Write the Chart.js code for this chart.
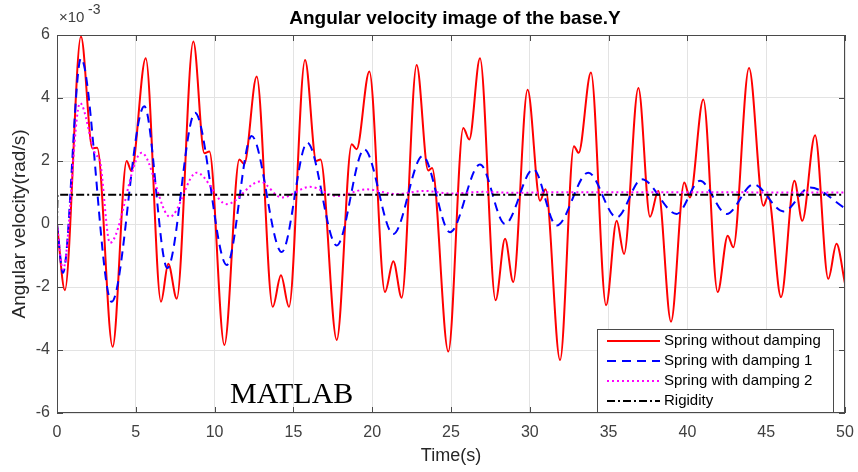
<!DOCTYPE html>
<html>
<head>
<meta charset="utf-8">
<script src="https://cdn.jsdelivr.net/npm/chart.js@4.4.0/dist/chart.umd.min.js"></script>
<style>
  html, body { margin: 0; padding: 0; background: #fff; }
  #wrap { width: 858px; height: 472px; }
</style>
</head>
<body>
<div id="wrap"><canvas id="velChart" width="858" height="472"></canvas></div>
<script>
// Spring without damping (time s, value x1e-3 rad/s)
const redT = [0, 0.5, 1.52, 2.25, 2.55, 3.53, 4.42, 4.72, 5.63, 6.6, 7.06, 7.6, 8.65, 9.35, 9.67, 10.62,
  11.57, 11.88, 12.67, 13.69, 14.21, 14.72, 15.74, 16.45, 16.72, 17.75, 18.7, 19.01, 19.82, 20.81, 21.34, 21.87,
  22.82, 23.55, 23.8, 24.83, 25.78, 26.16, 26.84, 27.83, 28.43, 28.95, 29.86, 30.65, 31.0, 31.92, 32.8, 33.1,
  33.88, 34.84, 35.51, 35.98, 36.89, 37.63, 38.15, 38.96, 39.8, 40.16, 41.01, 41.92, 42.56, 42.91, 43.91, 44.82,
  45.13, 45.94, 46.79, 47.29, 48.1, 48.94, 49.46, 50];
const redV = [0, -2.1, 5.95, 2.4, 2.42, -3.9, 2.0, 1.68, 5.26, -2.47, -1.26, -2.37, 5.79, 2.25, 2.3, -3.84,
  2.05, 1.9, 4.68, -2.63, -1.63, -2.63, 5.21, 2.0, 2.05, -3.68, 2.53, 2.37, 4.84, -2.16, -1.18, -2.34,
  5.05, 1.7, 1.78, -4.05, 3.05, 2.68, 5.26, -2.42, -0.47, -1.84, 4.26, 0.74, 1.1, -4.32, 2.47, 2.26,
  4.81, -2.58, 0.1, -0.95, 4.32, 0.23, 1.05, -3.1, 1.32, 0.84, 3.95, -2.16, -0.37, -0.74, 4.95, 0.58,
  0.89, -2.32, 1.37, 0.1, 2.82, -1.74, -0.63, -1.89];

// Spring with damping 1
const blueT = [0, 0.38, 1.52, 3.47, 5.54, 7.0, 8.76, 10.77, 12.35, 14.26, 15.88, 17.75, 19.5, 21.34, 23.2, 24.94,
  26.84, 28.43, 30.22, 31.7, 33.71, 35.51, 37.1, 39.32, 40.8, 42.49, 44.19, 46.1, 47.78, 50];
const blueV = [0, -1.55, 5.26, -2.47, 3.74, -1.4, 3.53, -1.3, 2.79, -0.89, 2.58, -0.68, 2.37, -0.32, 2.16, -0.26,
  1.89, 0.0, 1.74, -0.05, 1.63, 0.21, 1.42, 0.32, 1.37, 0.32, 1.26, 0.4, 1.16, 0.5];

// Spring with damping 2
const magT = [0, 0.38, 1.46, 2.45, 2.7, 3.36, 5.37, 7.17, 8.86, 10.77, 12.88, 14.26, 16.05, 17.75, 19.65, 21.5,
  23.3, 25, 27, 29, 32, 50];
const magV = [0, -1.45, 3.84, 2.2, 2.05, -0.6, 2.26, 0.23, 1.63, 0.63, 1.35, 0.84, 1.18, 0.89, 1.1, 0.95,
  1.05, 0.97, 1.02, 0.99, 1.01, 1.0];

// Rigidity
const rigT = [0, 0.03, 50];
const rigV = [0, 0.93, 0.93];

const xTicks = [0, 5, 10, 15, 20, 25, 30, 35, 40, 45, 50];
const yTicks = [-6, -4, -2, 0, 2, 4, 6];

const seriesNames = ['Spring without damping', 'Spring with damping 1', 'Spring with damping 2', 'Rigidity'];

function pts(ts, vs) {
  return ts.map((t, i) => ({ x: t, y: vs[i] }));
}

const styles = [
  { color: '#ff0000', dash: [] },
  { color: '#0000ff', dash: [9, 6] },
  { color: '#ff00ff', dash: [2, 3] },
  { color: '#000000', dash: [8, 3, 2, 3] }
];

const data = {
  datasets: [
    { label: seriesNames[0], data: pts(redT, redV), order: 3 },
    { label: seriesNames[1], data: pts(blueT, blueV), order: 2 },
    { label: seriesNames[2], data: pts(magT, magV), order: 1 },
    { label: seriesNames[3], data: pts(rigT, rigV), order: 0, cubicInterpolationMode: 'default', tension: 0 }
  ].map((d, i) => Object.assign({
    borderColor: styles[i].color,
    borderDash: styles[i].dash,
    borderWidth: 2,
    pointRadius: 0,
    fill: false,
    cubicInterpolationMode: 'monotone'
  }, d))
};

// title, exponent, box, inward ticks, legend, MATLAB label
const extras = {
  id: 'extras',
  afterDraw(chart) {
    const ctx = chart.ctx;
    const a = chart.chartArea;
    const xs = chart.scales.x, ys = chart.scales.y;
    ctx.save();

    // axes box
    ctx.strokeStyle = '#4a4a4a';
    ctx.lineWidth = 1;
    ctx.setLineDash([]);
    ctx.strokeRect(a.left + 0.5, a.top + 0.5, a.right - a.left - 1, a.bottom - a.top - 1);

    // inward ticks
    ctx.beginPath();
    xTicks.forEach(v => {
      const px = Math.round(xs.getPixelForValue(v)) + 0.5;
      ctx.moveTo(px, a.bottom); ctx.lineTo(px, a.bottom - 6);
      ctx.moveTo(px, a.top); ctx.lineTo(px, a.top + 6);
    });
    yTicks.forEach(v => {
      const py = Math.round(ys.getPixelForValue(v)) + 0.5;
      ctx.moveTo(a.left, py); ctx.lineTo(a.left + 6, py);
      ctx.moveTo(a.right, py); ctx.lineTo(a.right - 6, py);
    });
    ctx.stroke();

    // title
    ctx.fillStyle = '#000';
    ctx.font = 'bold 19px "Liberation Sans", Arial, sans-serif';
    ctx.textAlign = 'center';
    ctx.textBaseline = 'alphabetic';
    ctx.fillText('Angular velocity image of the base.Y', 455, 24);

    // exponent
    ctx.fillStyle = '#404040';
    ctx.textAlign = 'left';
    ctx.font = '15px "Liberation Sans", Arial, sans-serif';
    ctx.fillText('\u00d710', 59, 22);
    ctx.font = '14px "Liberation Sans", Arial, sans-serif';
    ctx.fillText('-3', 88, 14);

    // MATLAB label
    ctx.fillStyle = '#000';
    ctx.font = '30px "Liberation Serif", "Times New Roman", serif';
    ctx.fillText('MATLAB', 230, 403);

    // legend
    const lx = 597, ly = 329, lw = 236, lh = 83;
    ctx.fillStyle = '#fff';
    ctx.fillRect(lx, ly, lw, lh);
    ctx.strokeStyle = '#4a4a4a';
    ctx.strokeRect(lx + 0.5, ly + 0.5, lw, lh);
    const rowY = [341, 361, 381, 401];
    ctx.font = '15px "Liberation Sans", Arial, sans-serif';
    ctx.textBaseline = 'middle';
    seriesNames.forEach((name, i) => {
      ctx.strokeStyle = styles[i].color;
      ctx.setLineDash(styles[i].dash);
      ctx.lineWidth = 2;
      ctx.beginPath();
      ctx.moveTo(607, rowY[i]);
      ctx.lineTo(660, rowY[i]);
      ctx.stroke();
      ctx.fillStyle = '#000';
      ctx.fillText(name, 664, rowY[i]);
    });

    ctx.restore();
  }
};

const tickFont = { family: '"Liberation Sans", Arial, sans-serif', size: 16 };

new Chart(document.getElementById('velChart').getContext('2d'), {
  type: 'line',
  data: data,
  options: {
    responsive: false,
    animation: false,
    layout: { padding: { top: 35, right: 13, left: 0, bottom: 0 } },
    plugins: {
      legend: { display: false },
      tooltip: { enabled: false },
      title: { display: false }
    },
    scales: {
      x: {
        type: 'linear',
        min: 0,
        max: 50,
        afterFit: s => { s.height = 59; s.paddingLeft = 0; s.paddingRight = 0; },
        afterBuildTicks: s => { s.ticks = xTicks.map(v => ({ value: v })); },
        ticks: { font: tickFont, color: '#404040', padding: 10, maxRotation: 0 },
        grid: { color: '#e3e3e3', drawTicks: false },
        border: { display: false },
        title: {
          display: true,
          text: 'Time(s)',
          color: '#262626',
          font: { family: '"Liberation Sans", Arial, sans-serif', size: 18 },
          padding: { top: 0, bottom: 5 }
        }
      },
      y: {
        type: 'linear',
        min: -6,
        max: 6,
        afterFit: s => { s.width = 57; s.paddingTop = 0; s.paddingBottom = 0; },
        afterBuildTicks: s => { s.ticks = yTicks.map(v => ({ value: v })); },
        ticks: { font: tickFont, color: '#404040', padding: 7 },
        grid: { color: '#e3e3e3', drawTicks: false },
        border: { display: false },
        title: {
          display: true,
          text: 'Angular velocity(rad/s)',
          color: '#262626',
          font: { family: '"Liberation Sans", Arial, sans-serif', size: 19 },
          padding: { top: 8, bottom: 0 }
        }
      }
    }
  },
  plugins: [extras]
});
</script>
</body>
</html>
